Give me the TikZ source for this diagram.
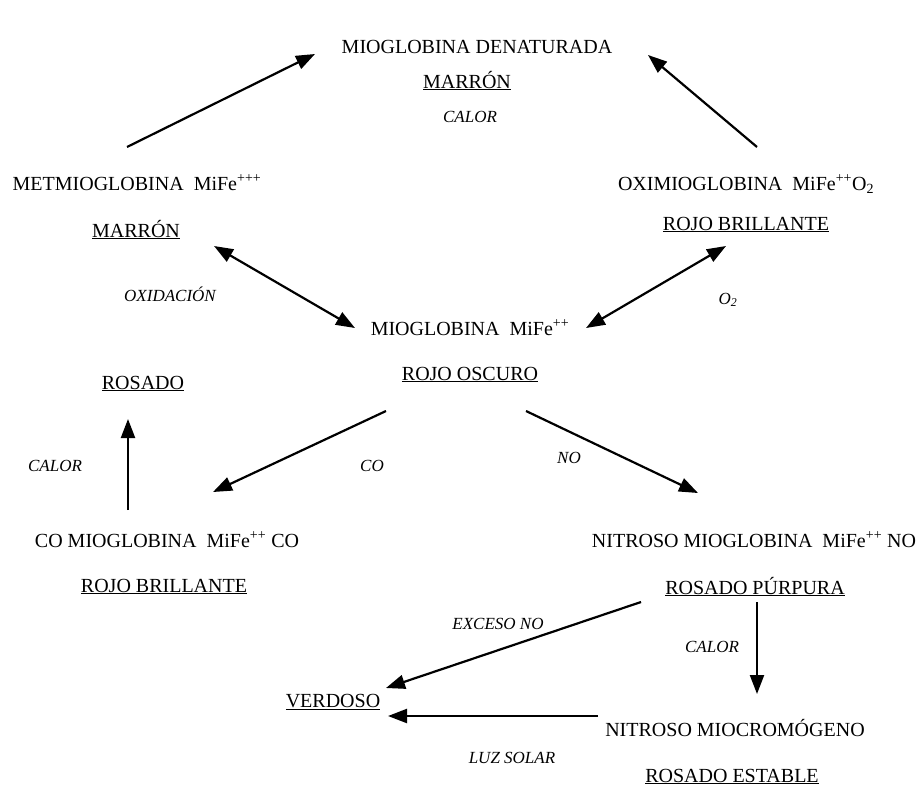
\documentclass[tikz,border=0pt]{standalone}
\usepackage{fontspec}
\setmainfont{Liberation Serif}
\usetikzlibrary{arrows.meta}

\begin{document}
\begin{tikzpicture}[x=1pt,y=-1pt,
    txt/.style={anchor=base,inner sep=0pt,font=\fontsize{20}{24}\selectfont},
    lbl/.style={anchor=base,inner sep=0pt,font=\fontsize{17}{20}\selectfont\itshape},
    flecha/.style={line width=2.2pt,-{Triangle[length=19pt,width=14pt]}},
    doble/.style={line width=2.2pt,{Triangle[length=19pt,width=14pt]}-{Triangle[length=19pt,width=14pt]}}]
    \useasboundingbox (0,0) rectangle (920,787);
    % estados del pigmento
    \node[txt] (denat)   at (477,53)  {MIOGLOBINA DENATURADA};
    \node[txt] (marronA) at (467,88)  {\underline{MARRÓN}};
    \node[lbl] (calorA)  at (470,122) {CALOR};
    \node[txt] (metmio)  at (137,190) {METMIOGLOBINA~~MiFe\textsuperscript{+++}};
    \node[txt] (marronB) at (136,237) {\underline{MARRÓN}};
    \node[lbl] (oxid)    at (170,301) {OXIDACIÓN};
    \node[txt] (oximio)  at (746,190) {OXIMIOGLOBINA~~MiFe\textsuperscript{++}O\textsubscript{2}};
    \node[txt] (rojoA)   at (746,230) {\underline{ROJO BRILLANTE}};
    \node[lbl] (oxlbl)   at (728,304) {O\textsubscript{2}};
    \node[txt] (mio)     at (470,335) {MIOGLOBINA~~MiFe\textsuperscript{++}};
    \node[txt] (oscuro)  at (470,380) {\underline{ROJO OSCURO}};
    \node[txt] (rosado)  at (143,389) {\underline{ROSADO}};
    \node[lbl] (calorB)  at (55,471)  {CALOR};
    \node[lbl] (colbl)   at (372,471) {CO};
    \node[lbl] (nolbl)   at (569,463) {NO};
    \node[txt] (comio)   at (167,547) {CO MIOGLOBINA~~MiFe\textsuperscript{++} CO};
    \node[txt] (rojoB)   at (164,592) {\underline{ROJO BRILLANTE}};
    \node[txt] (nitmio)  at (754,547) {NITROSO MIOGLOBINA~~MiFe\textsuperscript{++} NO};
    \node[txt] (purpura) at (755,594) {\underline{ROSADO PÚRPURA}};
    \node[lbl] (exceso)  at (498,629) {EXCESO NO};
    \node[lbl] (calorC)  at (712,652) {CALOR};
    \node[txt] (verdoso) at (333,707) {\underline{VERDOSO}};
    \node[txt] (nitcrom) at (735,736) {NITROSO MIOCROMÓGENO};
    \node[lbl] (luz)     at (512,763) {LUZ SOLAR};
    \node[txt] (estable) at (732,782) {\underline{ROSADO ESTABLE}};
    % extremos de las flechas
    \coordinate (metA) at (127,147);  \coordinate (denA) at (315,54);
    \coordinate (oxiA) at (757,147);  \coordinate (denB) at (648,55);
    \coordinate (metB) at (214,246);  \coordinate (mioA) at (355,328);
    \coordinate (oxiB) at (726,246);  \coordinate (mioB) at (586,328);
    \coordinate (mioC) at (386,411);  \coordinate (coA)  at (213,492);
    \coordinate (mioD) at (526,411);  \coordinate (nitA) at (698,493);
    \coordinate (coB)  at (128,510);  \coordinate (rosA) at (128,419);
    \coordinate (nitB) at (641,602);  \coordinate (verA) at (386,688);
    \coordinate (nitC) at (757,602);  \coordinate (cromA) at (757,694);
    \coordinate (cromB) at (598,716); \coordinate (verB) at (388,716);
    % reacciones
    \draw[flecha] (metA) -- (denA);
    \draw[flecha] (oxiA) -- (denB);
    \draw[doble]  (metB) -- (mioA);
    \draw[doble]  (mioB) -- (oxiB);
    \draw[flecha] (mioC) -- (coA);
    \draw[flecha] (mioD) -- (nitA);
    \draw[flecha] (coB)  -- (rosA);
    \draw[flecha] (nitB) -- (verA);
    \draw[flecha] (nitC) -- (cromA);
    \draw[flecha] (cromB) -- (verB);
\end{tikzpicture}
\end{document}
